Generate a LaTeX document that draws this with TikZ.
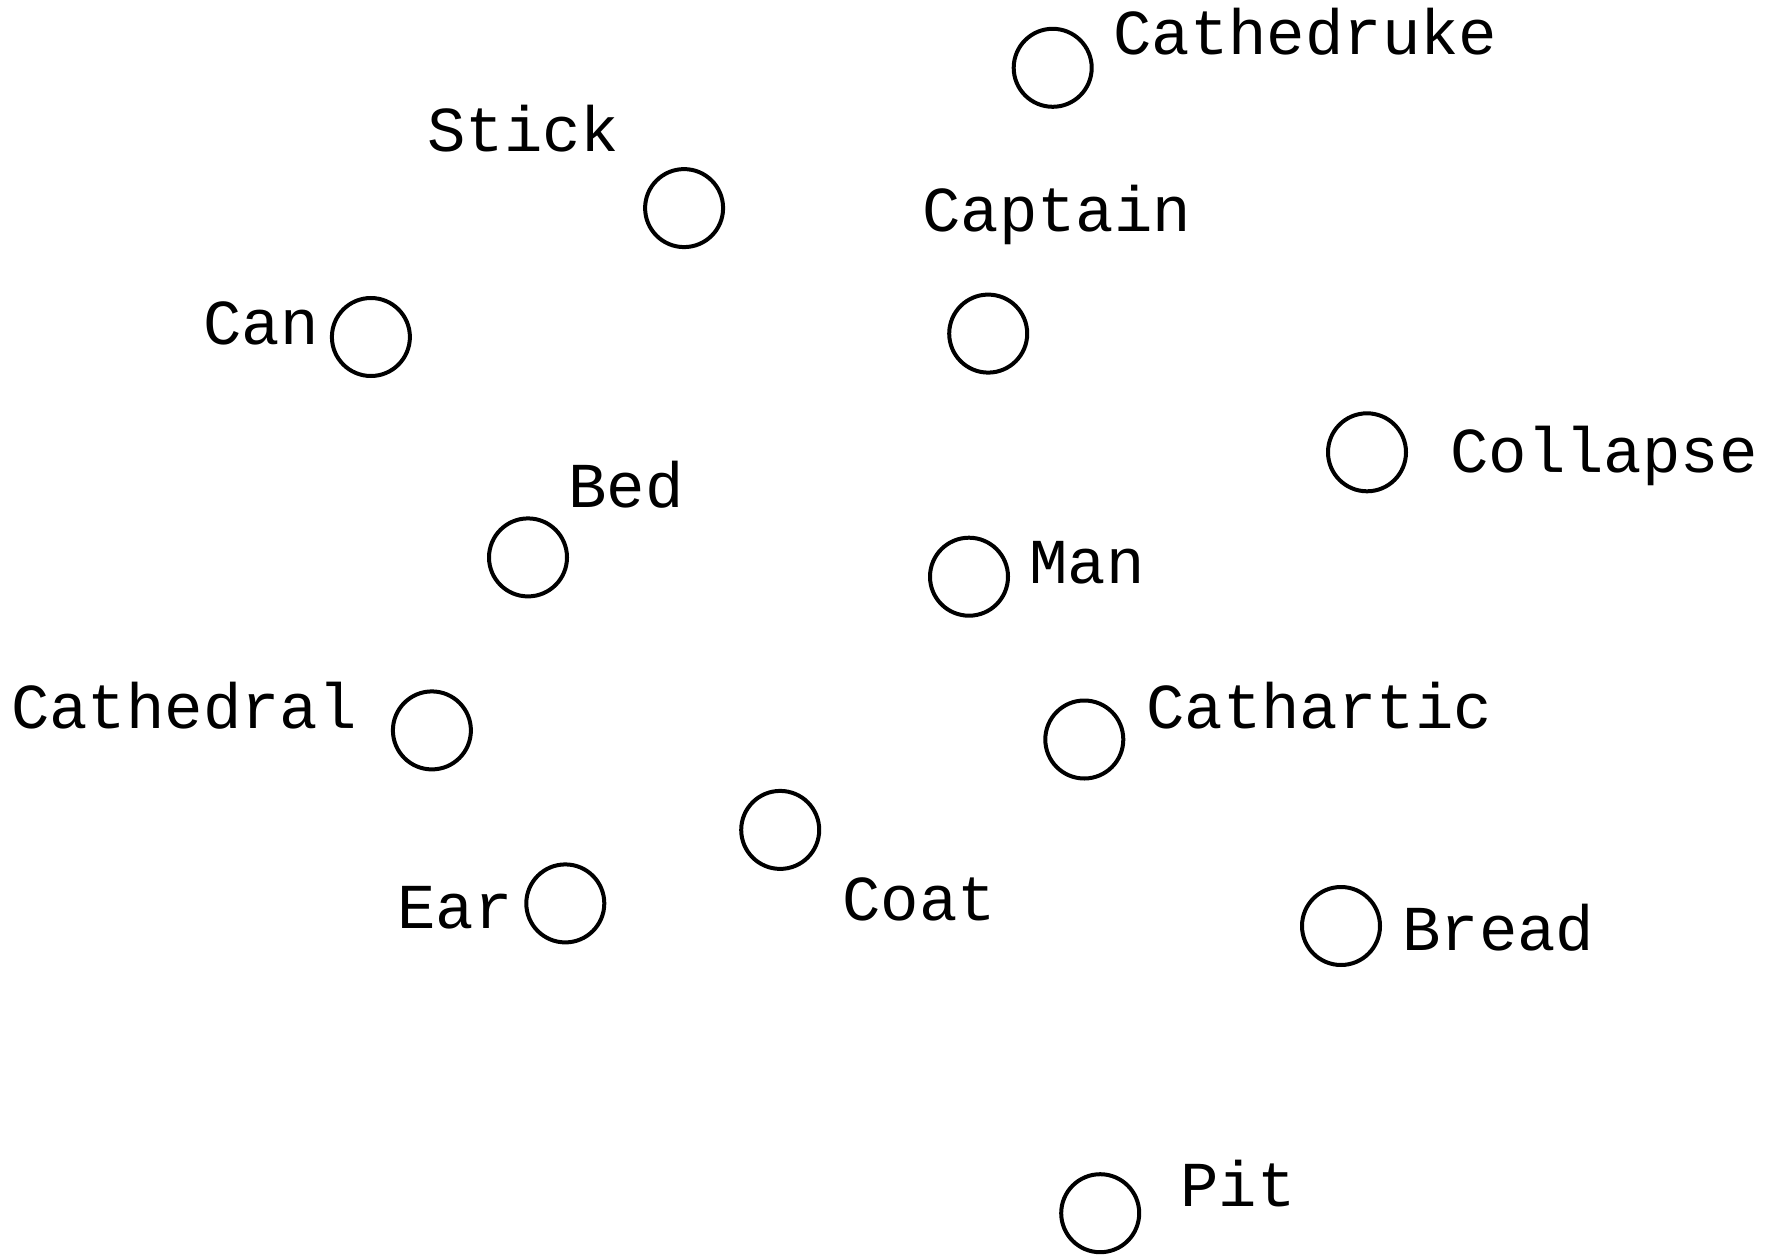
\documentclass[tikz,border=0pt]{standalone}
\usepackage{fontspec}
\setmonofont{Liberation Mono}
\begin{document}
\begin{tikzpicture}[x=1pt,y=-1pt,
  dot/.style={circle,draw=black,line width=4pt,minimum size=78pt,inner sep=0pt},
  lbl/.style={anchor=base west,inner sep=0pt,font=\fontsize{64}{77}\selectfont\ttfamily}]
\useasboundingbox (0,0) rectangle (1773,1255);
% circles
\node[dot] (cathedruke) at (1052.7,67.8) {};
\node[dot] (stick) at (684.1,208.1) {};
\node[dot] (captain) at (988.2,333.6) {};
\node[dot] (can) at (370.9,337.0) {};
\node[dot] (collapse) at (1367.0,452.3) {};
\node[dot] (bed) at (528.0,557.4) {};
\node[dot] (man) at (969.0,576.7) {};
\node[dot] (cathedral) at (431.9,730.4) {};
\node[dot] (cathartic) at (1084.3,739.5) {};
\node[dot] (coat) at (780.2,829.9) {};
\node[dot] (ear) at (565.3,903.4) {};
\node[dot] (bread) at (1341.0,926.0) {};
\node[dot] (pit) at (1100.2,1213.2) {};
% labels
\node[lbl] (lcathedruke) at (1113,55) {Cathedruke};
\node[lbl] (lstick) at (427,151) {Stick};
\node[lbl] (lcaptain) at (922,231) {Captain};
\node[lbl] (lcan) at (203,344) {Can};
\node[lbl] (lcollapse) at (1450,472) {Collapse};
\node[lbl] (lbed) at (568,507) {Bed};
\node[lbl] (lman) at (1029,583) {Man};
\node[lbl] (lcathedral) at (11,728) {Cathedral};
\node[lbl] (lcathartic) at (1146,728) {Cathartic};
\node[lbl] (lcoat) at (842,920) {Coat};
\node[lbl] (lear) at (397,928) {Ear};
\node[lbl] (lbread) at (1402,950) {Bread};
\node[lbl] (lpit) at (1180,1206) {Pit};
\end{tikzpicture}
\end{document}
